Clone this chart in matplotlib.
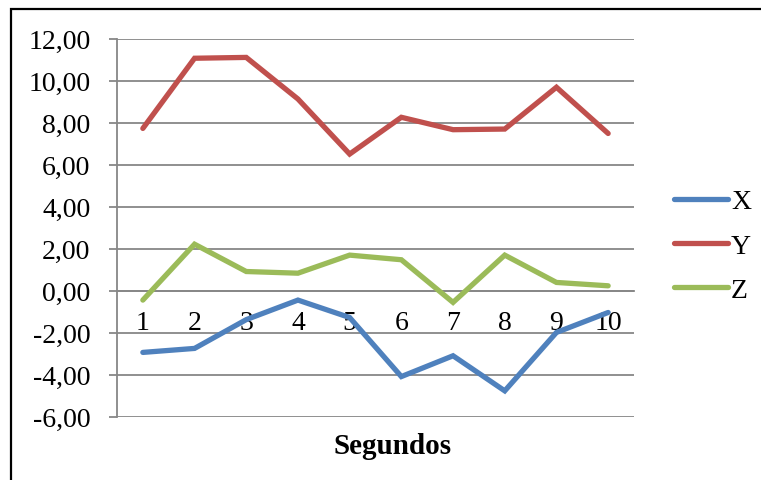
import matplotlib.pyplot as plt
from matplotlib.patches import Rectangle

# readings per second for each axis
segundos = [1, 2, 3, 4, 5, 6, 7, 8, 9, 10]
eje_x = [-2.94, -2.75, -1.38, -0.45, -1.28, -4.09, -3.10, -4.77, -1.99, -1.04]
eje_y = [7.72, 11.06, 11.10, 9.12, 6.50, 8.25, 7.66, 7.69, 9.68, 7.48]
eje_z = [-0.45, 2.21, 0.91, 0.83, 1.69, 1.47, -0.56, 1.69, 0.39, 0.23]
y_ticks = [-6, -4, -2, 0, 2, 4, 6, 8, 10, 12]

W, H = 761, 481
grid_color = "#878787"
plt.rcParams["font.family"] = ["Liberation Serif", "DejaVu Serif"]

fig = plt.figure(figsize=(W / 100, H / 100), dpi=100)

# outer chart frame
fig.patches.append(Rectangle((11 / W, -0.05), 1.1, (H - 10) / H + 0.05,
                             transform=fig.transFigure, fill=False,
                             edgecolor="black", linewidth=1.6))

ax = fig.add_axes([117 / W, (H - 417.7) / H, (634 - 117) / W, (417.7 - 39.5) / H])

series = [("X", eje_x, "#4F81BD"), ("Y", eje_y, "#C0504D"), ("Z", eje_z, "#9BBB59")]
for name, vals, color in series:
    ax.plot(segundos, vals, color=color, linewidth=3.8, label=name,
            solid_capstyle="round", solid_joinstyle="miter", zorder=3)

ax.set_xlim(0.5, 10.5)
ax.set_ylim(-6, 12)
ax.set_yticks(y_ticks)
ax.set_yticklabels([f"{v:.2f}".replace(".", ",") for v in y_ticks])
ax.set_xticks(segundos)
ax.set_xticklabels([str(s) for s in segundos])

ax.grid(axis="y", color=grid_color, linewidth=1.3, zorder=1)
for side in ("top", "right"):
    ax.spines[side].set_visible(False)
ax.spines["left"].set_color(grid_color)
ax.spines["left"].set_linewidth(1.3)
ax.spines["bottom"].set_position(("data", 0))
ax.spines["bottom"].set_color(grid_color)
ax.spines["bottom"].set_linewidth(1.3)

ax.tick_params(axis="y", length=6, width=1.3, color=grid_color, pad=13, labelsize=20)
ax.tick_params(axis="x", length=0, pad=14, labelsize=20)

fig.text(393 / W, 1 - 447 / H, "Segundos", fontsize=21, fontweight="bold",
         ha="center", va="center")

fig.legend(loc="center left", bbox_to_anchor=(674 / W, 1 - 247 / H),
           frameon=False, fontsize=20, handlelength=1.95, handletextpad=0.1,
           labelspacing=0.68, borderpad=0, borderaxespad=0)

fig.savefig("out.png", dpi=100)
